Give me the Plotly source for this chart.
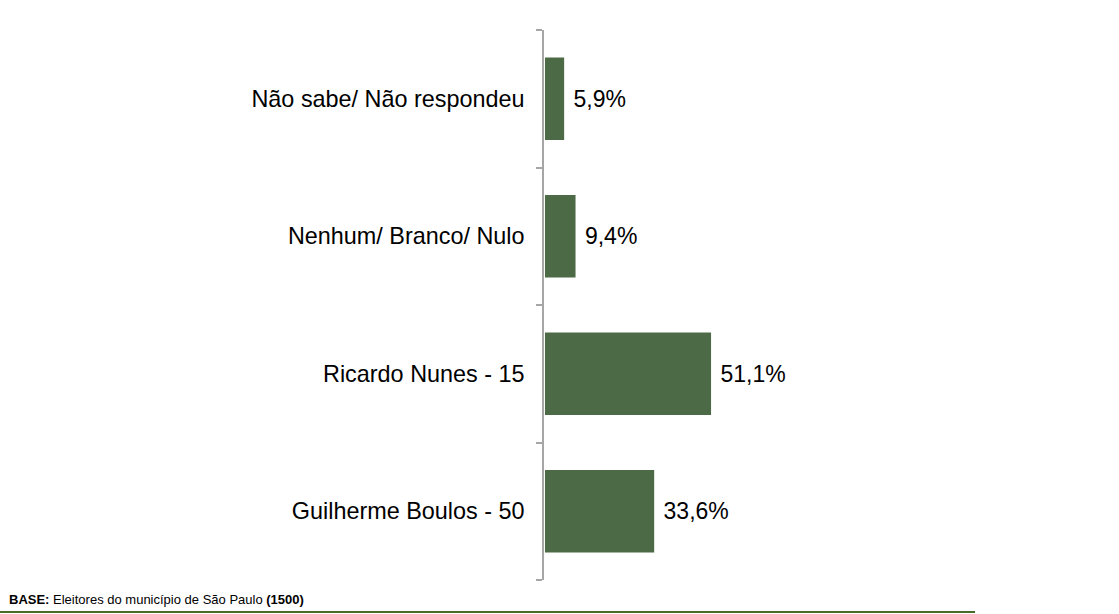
import plotly.graph_objects as go

categories = ["Guilherme Boulos - 50", "Ricardo Nunes - 15", "Nenhum/ Branco/ Nulo", "Não sabe/ Não respondeu"]
values = [33.6, 51.1, 9.4, 5.9]
value_labels = ["33,6%", "51,1%", "9,4%", "5,9%"]

W, H = 1119, 614
left, right, top, bottom = 544, 20, 30, 34
plot_w = W - left - right
plot_h = H - top - bottom
px_per_unit = 3.25
xmax = plot_w / px_per_unit

fig = go.Figure()
fig.add_trace(go.Bar(
    y=categories, x=values, orientation="h",
    marker=dict(color="#4b6a45", line=dict(width=0)),
    text=["\u00a0" + t for t in value_labels], textposition="outside",
    textfont=dict(family="Liberation Sans, Arial, sans-serif", size=23, color="#000000"),
    cliponaxis=False, hoverinfo="skip",
))

fig.update_layout(
    width=W, height=H,
    margin=dict(l=left, r=right, t=top, b=bottom),
    paper_bgcolor="white", plot_bgcolor="white",
    bargap=0.4, showlegend=False,
    font=dict(family="Liberation Sans, Arial, sans-serif", color="#000000"),
    xaxis=dict(range=[-0.3, xmax - 0.3], visible=False, fixedrange=True),
    yaxis=dict(
        type="category", range=[-0.5, 3.5],
        showline=True, linecolor="#a6a6a6", linewidth=1.5,
        ticks="outside", tickson="boundaries", ticklen=6, tickcolor="#a6a6a6", tickwidth=1.5,
        tickfont=dict(size=23.4, color="#000000"),
        ticklabelstandoff=13,
        showgrid=False, zeroline=False, fixedrange=True,
    ),
    annotations=[dict(
        xref="paper", yref="paper", x=-(left - 7) / plot_w, y=-(599 - (H - bottom)) / plot_h,
        xanchor="left", yanchor="middle", showarrow=False,
        text="<b>BASE:</b> Eleitores do município de São Paulo <b>(1500)</b>",
        font=dict(size=13, color="#000000"),
    )],
    shapes=[dict(
        type="line", xref="paper", yref="paper",
        x0=-left / plot_w, x1=(975 - left) / plot_w,
        y0=-(612 - (H - bottom)) / plot_h, y1=-(612 - (H - bottom)) / plot_h,
        line=dict(color="#4a6a2a", width=2),
    )],
)

fig.write_html("out.html", config={"displayModeBar": False},
               post_script="document.body.style.margin='0';document.body.style.overflow='hidden';")
